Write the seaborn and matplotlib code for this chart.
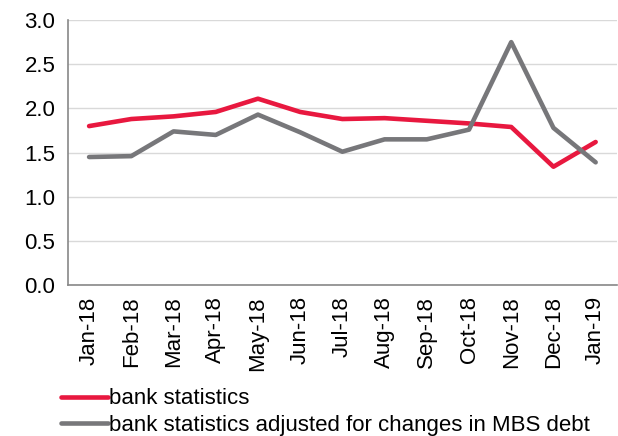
import matplotlib
matplotlib.use("Agg")
import matplotlib.pyplot as plt
import seaborn as sns
import pandas as pd
import numpy as np
from matplotlib.ticker import FixedLocator, MultipleLocator
from matplotlib.lines import Line2D

months = ["Jan-18", "Feb-18", "Mar-18", "Apr-18", "May-18", "Jun-18", "Jul-18",
          "Aug-18", "Sep-18", "Oct-18", "Nov-18", "Dec-18", "Jan-19"]
bank_stats = [1.80, 1.88, 1.91, 1.96, 2.11, 1.96, 1.88, 1.89, 1.86, 1.83, 1.79, 1.34, 1.62]
bank_adj = [1.45, 1.46, 1.74, 1.70, 1.93, 1.73, 1.51, 1.65, 1.65, 1.76, 2.75, 1.78, 1.39]
series_names = ["bank statistics", "bank statistics adjusted for changes in MBS debt"]
colors = ["#E8183F", "#77777A"]

sns.set_style("white")
plt.rcParams['font.family'] = ['Liberation Sans', 'DejaVu Sans']
plt.rcParams['text.color'] = 'black'
plt.rcParams['xtick.labelcolor'] = 'black'
plt.rcParams['ytick.labelcolor'] = 'black'

pos = np.arange(len(months))
df = pd.DataFrame({
    "pos": np.concatenate([pos, pos]),
    "value": bank_stats + bank_adj,
    "series": [series_names[0]] * len(months) + [series_names[1]] * len(months),
})

fig = plt.figure(figsize=(6.18, 4.36), dpi=100)
ax = fig.add_axes([0.110, 0.346, 0.888, 0.608])

sns.lineplot(data=df, x="pos", y="value", hue="series", palette=colors,
             linewidth=3.3, ax=ax, legend=False, zorder=3)

ax.set_ylim(0, 3.0)
ax.set_xlim(-0.5, len(months) - 0.5)
ax.yaxis.set_major_locator(MultipleLocator(0.5))
ax.yaxis.set_major_formatter(matplotlib.ticker.FormatStrFormatter("%.1f"))
ax.grid(axis="y", color="#D9D9D9", linewidth=1.0, zorder=0)
ax.grid(axis="x", visible=False)

ax.xaxis.set_major_locator(FixedLocator(np.arange(-0.5, len(months), 1.0)))
ax.xaxis.set_major_formatter(matplotlib.ticker.NullFormatter())
ax.set_xticks(pos, minor=True)
ax.set_xticklabels(months, minor=True, rotation=90, fontsize=16, color="black")
ax.tick_params(axis="x", which="minor", length=0, pad=8)
ax.tick_params(axis="x", which="major", length=5, width=1, color="#888888", direction="out")
ax.tick_params(axis="y", length=5, width=1, color="#888888", direction="out",
               labelsize=16, pad=4, labelcolor="black")

for s in ["top", "right"]:
    ax.spines[s].set_visible(False)
for s in ["left", "bottom"]:
    ax.spines[s].set_color("#888888")
    ax.spines[s].set_linewidth(1.2)

ax.set_xlabel("")
ax.set_ylabel("")

handles = [Line2D([0], [0], color=c, linewidth=3.3) for c in colors]
fig.legend(handles, series_names, loc="upper left", bbox_to_anchor=(0.0987, 0.109),
           frameon=False, fontsize=16, handlelength=2.1, handletextpad=0.05,
           labelspacing=0.26, borderpad=0, borderaxespad=0, labelcolor="black")

fig.savefig("out.png", dpi=100)
